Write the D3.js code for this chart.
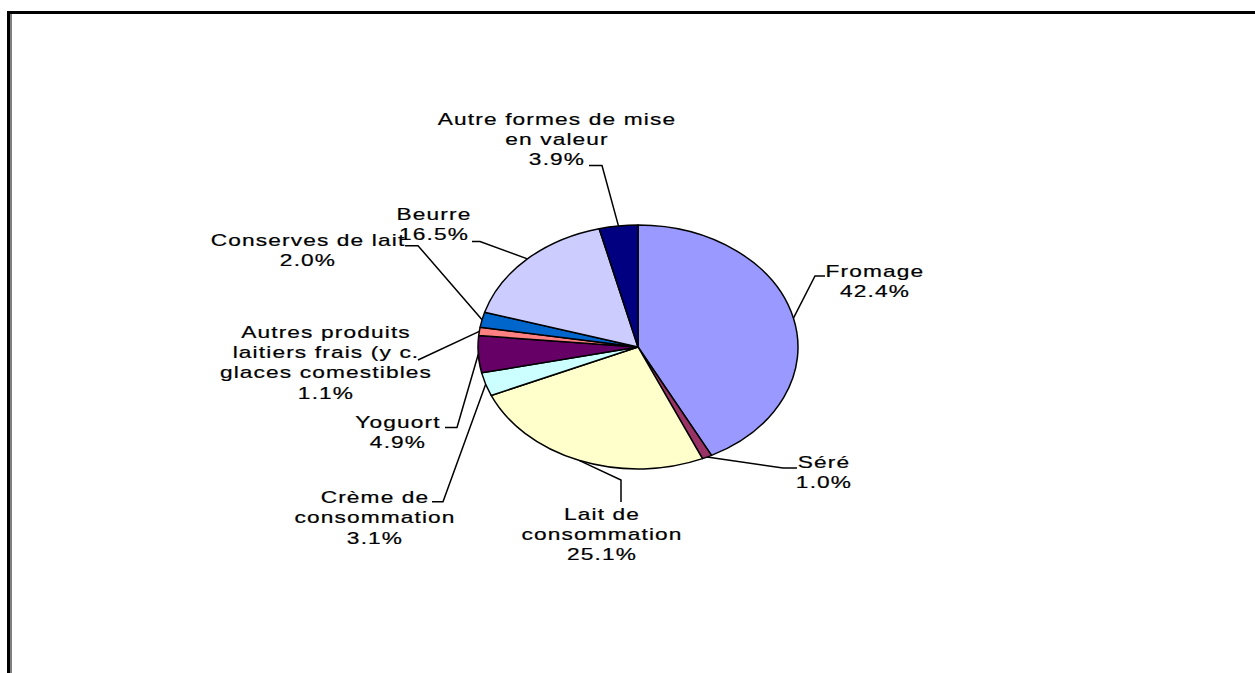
<!DOCTYPE html>
<html>
<head>
<meta charset="utf-8">
<script src="https://cdn.jsdelivr.net/npm/d3@7/dist/d3.min.js"></script>
<style>
  html, body { margin: 0; padding: 0; background: #fff; }
  svg { display: block; }
  text { font-family: "Liberation Sans", Arial, sans-serif; font-size: 16px; fill: #000; stroke: #000; stroke-width: 0.2px; letter-spacing: 0.8px; }
</style>
</head>
<body>
<script>
// ---- data ----
const categories = ["Fromage", "Séré", "Lait de consommation", "Crème de consommation", "Yoguort",
  "Autres produits laitiers frais (y c. glaces comestibles", "Conserves de lait", "Beurre",
  "Autre formes de mise en valeur"];
const values = [42.4, 1.0, 25.1, 3.1, 4.9, 1.1, 2.0, 16.5, 3.9];
const labelLines = [
  ["Fromage"], ["Séré"], ["Lait de", "consommation"], ["Crème de", "consommation"], ["Yoguort"],
  ["Autres produits", "laitiers frais (y c.", "glaces comestibles"], ["Conserves de lait"], ["Beurre"],
  ["Autre formes de mise", "en valeur"]
];
const colors = ["#9999FF", "#993366", "#FFFFCC", "#CCFFFF", "#660066", "#FF8080", "#0066CC", "#CCCCFF", "#000080"];

// ---- layout (label placement) ----
const labelLayout = [
  { cx: 875, y: 276.7, knee: [815, 276], attach: [825, 276] },
  { cx: 824, y: 468.3, knee: [783, 468], attach: [797, 468] },
  { cx: 602, y: 520, knee: [621, 480], attach: [621, 502] },
  { cx: 375, y: 503.3, knee: [443, 501.7], attach: [432, 501.7] },
  { cx: 398, y: 428.3, knee: [457, 427.5], attach: [445, 427.5] },
  { cx: 326, y: 338, knee: [418, 360], attach: [418, 360] },
  { cx: 308, y: 245.7, knee: [418, 245.7], attach: [405, 245.7] },
  { cx: 434, y: 220, knee: [480, 241.5], attach: [472, 241.5] },
  { cx: 557, y: 125, knee: [602, 165.5], attach: [589, 165.5] }
];

const W = 1255, H = 673;
const cx = 638, cy = 347, R = 160, ry = 122;
const yScale = ry / R;
const lineH = 20.2;

const svg = d3.select("body").append("svg").attr("width", W).attr("height", H);

// frame
svg.append("rect").attr("x", 7).attr("y", 11).attr("width", W - 7).attr("height", 3).attr("fill", "#000");
svg.append("rect").attr("x", 7).attr("y", 11).attr("width", 3).attr("height", H - 11).attr("fill", "#000");
svg.append("rect").attr("x", 10).attr("y", 14).attr("width", 2).attr("height", H - 14).attr("fill", "#808080");

const pie = d3.pie().sort(null).value(d => d).startAngle(0).endAngle(2 * Math.PI);
const arcs = pie(values);
const arc = d3.arc().innerRadius(0).outerRadius(R);
const edgeArc = d3.arc().innerRadius(R).outerRadius(R);

const pieG = svg.append("g").attr("transform", `translate(${cx},${cy}) scale(1,${yScale})`);
pieG.selectAll("path").data(arcs).join("path")
  .attr("d", arc)
  .attr("fill", (d, i) => colors[i])
  .attr("stroke", "#000")
  .attr("stroke-width", 1.5)
  .attr("vector-effect", "non-scaling-stroke")
  .attr("stroke-linejoin", "round");

// leader lines
const line = d3.line();
arcs.forEach((d, i) => {
  const c = edgeArc.centroid(d);
  const edge = [cx + c[0], cy + c[1] * yScale];
  const L = labelLayout[i];
  svg.append("path")
    .attr("d", line([edge, L.knee, L.attach]))
    .attr("fill", "none")
    .attr("stroke", "#000")
    .attr("stroke-width", 1.5);
});

// labels
const fmt = d3.format(".1f");
arcs.forEach((d, i) => {
  const L = labelLayout[i];
  const lines = labelLines[i].concat([fmt(values[i]) + "%"]);
  const g = svg.append("g").attr("transform", `translate(${L.cx},${L.y}) scale(1.42,1)`);
  lines.forEach((t, k) => {
    g.append("text")
      .attr("x", 0)
      .attr("y", k * lineH)
      .attr("text-anchor", "middle")
      .text(t);
  });
});
</script>
</body>
</html>
